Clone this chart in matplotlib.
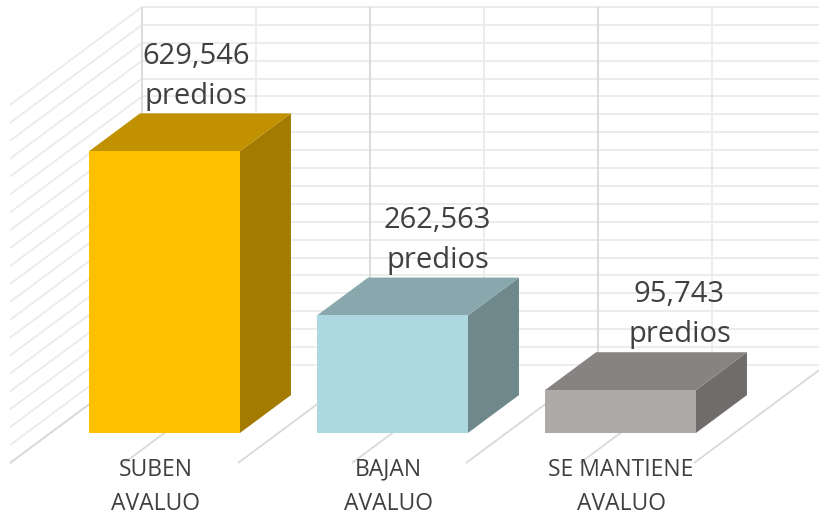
import matplotlib
matplotlib.use('Agg')
import matplotlib.pyplot as plt
import numpy as np
from matplotlib.patches import Polygon

# datos
categorias = ['SUBEN\nAVALUO', 'BAJAN\nAVALUO', 'SE MANTIENE\nAVALUO']
predios = [629546, 262563, 95743]
etiquetas = ['629,546\npredios', '262,563\npredios', '95,743\npredios']

# colores: frente, arriba, lado
col_frente = ['#FFC000', '#AED8E0', '#AEAAAA']
col_arriba = ['#C29100', '#88A8AE', '#878383']
col_lado = ['#A27B00', '#6E888C', '#706C6C']

#aspecto 3d (oblicuo) en unidades de datos
PROF_X = 0.579        # profundidad del piso en categorias
PROF_Y = 219000       # profundidad del piso en valores
Z0, Z1 = 0.307, 0.693 # frente y fondo de las barras
ANCHO = 0.662
VMAX = 800000
PASO = 40000

plt.rcParams['font.family'] = ['Open Sans', 'DejaVu Sans']


def proy(x, v, z):
	return (x + z * PROF_X, v + z * PROF_Y)


def linea(ax, p0, p1, color, lw=1.3, zorder=1):
	ax.plot([p0[0], p1[0]], [p0[1], p1[1]], color=color, lw=lw, zorder=zorder,
		solid_capstyle='butt')


fig = plt.figure(figsize=(8.2, 5.17), dpi=100)
ax = fig.add_axes([0, 0, 1, 1])
ax.set_xlim(-0.5 - 10 / 228, -0.5 + 810 / 228)
ax.set_ylim(-54 / 0.0004475, 463 / 0.0004475)
ax.axis('off')

n = len(predios)
niveles = np.arange(0, VMAX + 1, PASO)

# pared izquierda y pared del fondo
for v in niveles:
	linea(ax, proy(-0.5, v, 0), proy(-0.5, v, 1), '#EBEBEB')
	linea(ax, proy(-0.5, v, 1), proy(n - 0.5, v, 1), '#EBEBEB')
for k in range(2 * n + 1):
	x = -0.5 + k * 0.5
	c = '#D9D9D9' if k % 2 == 0 else '#EBEBEB'
	linea(ax, proy(x, 0, 1), proy(x, VMAX, 1), c)
	# piso
	linea(ax, proy(x, 0, 0), proy(x, 0, 1), '#D9D9D9')

# barras
for i, v in enumerate(predios):
	x0 = i - ANCHO / 2
	x1 = i + ANCHO / 2
	frente = [proy(x0, 0, Z0), proy(x1, 0, Z0), proy(x1, v, Z0), proy(x0, v, Z0)]
	arriba = [proy(x0, v, Z0), proy(x1, v, Z0), proy(x1, v, Z1), proy(x0, v, Z1)]
	lado = [proy(x1, 0, Z0), proy(x1, 0, Z1), proy(x1, v, Z1), proy(x1, v, Z0)]
	ax.add_patch(Polygon(lado, closed=True, fc=col_lado[i], ec='none', zorder=3))
	ax.add_patch(Polygon(arriba, closed=True, fc=col_arriba[i], ec='none', zorder=3))
	ax.add_patch(Polygon(frente, closed=True, fc=col_frente[i], ec='none', zorder=4))

	# etiqueta de datos
	ax.text(i + 0.316 + 0.06 * i, v + 158000, etiquetas[i], ha='center', va='bottom',
		fontsize=21, color='#404040', linespacing=1.5, zorder=6)
	# etiqueta de categoria
	ax.text(i + 0.14 + 0.02 * i, 12000, categorias[i], ha='center', va='top',
		fontsize=16.5, color='#404040', linespacing=1.6, zorder=6)

fig.savefig('out.png', dpi=100)
